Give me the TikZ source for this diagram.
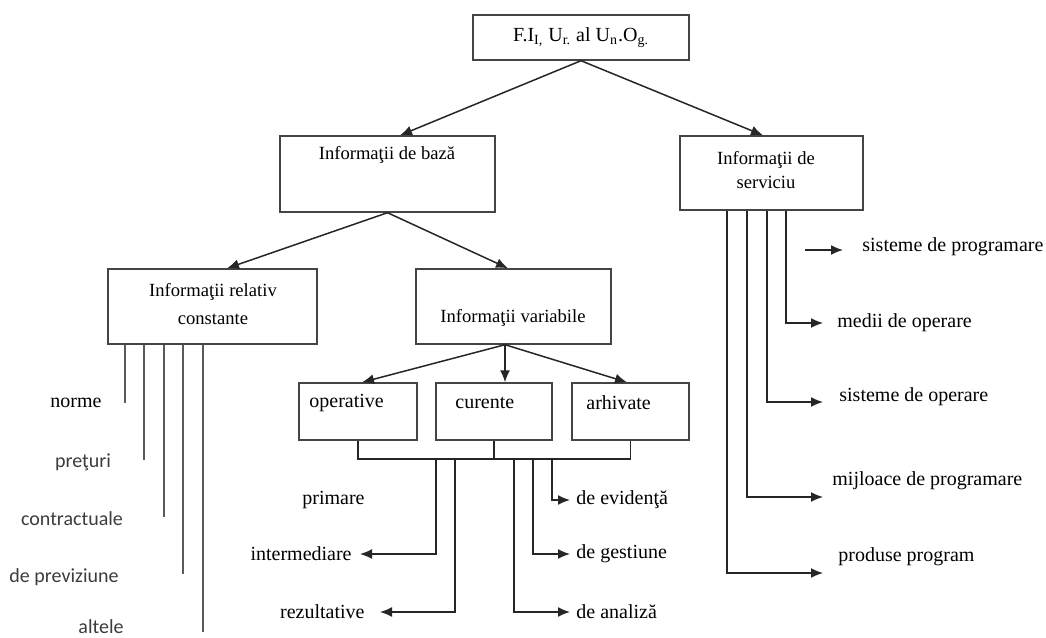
\documentclass[tikz,border=0pt]{standalone}
\usepackage{fontspec}
\setmainfont{Liberation Serif}
\newfontfamily\carlito{Carlito}
\usepackage{tikz}
\usetikzlibrary{calc, arrows.meta, shapes}
\tikzset{>={Latex[length = 6pt, width = 5pt]}}
\definecolor{mygray1}{RGB}{68, 68, 68}
\definecolor{mygray2}{RGB}{90, 90, 90}
\definecolor{mygray3}{RGB}{60, 60, 60}
\tikzset{box/.style = {draw = mygray1, line width = 0.7pt, inner sep = 0pt},
         boxtxt/.style = {inner sep = 0pt, font = \fontsize{9.3}{12}\selectfont, align = center},
         txt/.style = {inner sep = 0pt, font = \fontsize{10}{12}\selectfont},
         sanstxt/.style = {inner sep = 0pt, text = mygray3, font = \carlito\fontsize{10}{12}\selectfont},
         conn/.style = {draw = black!85, line width = 0.75pt},
         gline/.style = {draw = mygray2, line width = 0.7pt}}

\begin{document}
\begin{tikzpicture}[x = 0.5pt, y = -0.5pt]
\useasboundingbox (0,0) rectangle (1046,638);
% boxes
\node[box, minimum width = 108pt, minimum height = 22.5pt, font = \fontsize{10}{12}\selectfont] (fiur) at (581, 37.5) {F.I\textsubscript{I,} U\textsubscript{r.} al U\textsubscript{n}.O\textsubscript{g.}};
\node[box, minimum width = 107.5pt, minimum height = 38pt] (baza) at (387.5, 174) {};
\node[boxtxt] (bazatxt) at (387, 155) {Informaţii de bază};
\node[box, minimum width = 91.5pt, minimum height = 37pt] (serv) at (771.5, 173) {};
\node[boxtxt] (servtxt) at (766, 170) {Informaţii de\\ serviciu};
\node[box, minimum width = 104.5pt, minimum height = 37.5pt] (relcon) at (212.5, 306.5) {};
\node[boxtxt] (relcontxt) at (213, 304) {Informaţii relativ\\[2pt] constante};
\node[box, minimum width = 97.5pt, minimum height = 37.5pt] (variab) at (513.5, 306.5) {};
\node[boxtxt] (variabtxt) at (513, 318) {Informaţii variabile};
\node[box, minimum width = 59pt, minimum height = 28.5pt] (oper) at (358, 411.5) {};
\node[txt, anchor = west] (opertxt) at (309, 403) {operative};
\node[box, minimum width = 58pt, minimum height = 28.5pt] (cur) at (494, 411.5) {};
\node[txt, anchor = west] (curtxt) at (455, 403) {curente};
\node[box, minimum width = 58.5pt, minimum height = 28.5pt] (arh) at (630.5, 411.5) {};
\node[txt, anchor = west] (arhtxt) at (586, 403) {arhivate};
% labels
\node[txt] (norme) at (76, 403) {norme};
\node[sanstxt] (preturi) at (83, 462) {preţuri};
\node[sanstxt] (contr) at (72, 519) {contractuale};
\node[sanstxt] (previz) at (64, 577) {de previziune};
\node[sanstxt] (altele) at (101, 627) {altele};
\node[txt, anchor = east] (prim) at (365, 500) {primare};
\node[txt, anchor = east] (interm) at (352, 554) {intermediare};
\node[txt, anchor = east] (rezult) at (365, 612) {rezultative};
\node[txt, anchor = west] (evid) at (576, 500) {de evidenţă};
\node[txt, anchor = west] (gest) at (576, 554) {de gestiune};
\node[txt, anchor = west] (anal) at (576, 612) {de analiză};
\node[txt, anchor = west] (sisprog) at (862, 247) {sisteme de programare};
\node[txt, anchor = west] (medii) at (837, 323) {medii de operare};
\node[txt, anchor = west] (sisop) at (839, 397) {sisteme de operare};
\node[txt, anchor = west] (mijl) at (832, 481) {mijloace de programare};
\node[txt, anchor = west] (prod) at (838, 557) {produse program};
% arrows
\draw[conn, ->] (fiur.south) -- (baza.north -| 400,0);
\draw[conn, ->] (fiur.south) -- (serv.north -| 763,0);
\draw[conn, ->] (baza.south) -- (relcon.north -| 227,0);
\draw[conn, ->] (baza.south) -- (variab.north -| 508,0);
\draw[conn, ->] (variab.south -| 505,0) -- (oper.north -| 362,0);
\draw[conn, ->] (variab.south -| 505,0) -- (cur.north -| 505,0);
\draw[conn, ->] (variab.south -| 505,0) -- (arh.north -| 627,0);
% bus under the three boxes
\coordinate (bus) at (0, 459);
\draw[conn] (oper.south) -- (oper.south |- bus) -- (arh.south |- bus) -- (arh.south);
\draw[conn] (cur.south) -- (cur.south |- bus);
\draw[conn, ->] (bus -| 436,0) |- (interm.east -| 360,0);
\draw[conn, ->] (bus -| 455,0) |- (rezult.east -| 380,0);
\draw[conn, ->] (bus -| 514,0) |- (anal.west -| 570,0);
\draw[conn, ->] (bus -| 533,0) |- (gest.west -| 570,0);
\draw[conn, ->] (bus -| 552,0) |- (evid.west -| 570,0);
% service lines
\draw[conn, ->] (serv.south -| 786,0) |- (medii.west -| 823,0);
\draw[conn, ->] (serv.south -| 767,0) |- ($(sisop.west -| 823,0) + (0,5)$);
\draw[conn, ->] (serv.south -| 747,0) |- ($(mijl.west -| 823,0) + (0,16)$);
\draw[conn, ->] (serv.south -| 727,0) |- ($(prod.west -| 823,0) + (0,16)$);
\draw[conn, ->] ($(sisprog.west -| 805,0) + (0,3)$) -- ($(sisprog.west -| 843,0) + (0,3)$);
% lines under relativ constante
\draw[gline] (relcon.south -| 125,0) -- ++(0,58);
\draw[gline] (relcon.south -| 144,0) -- ++(0,115);
\draw[gline] (relcon.south -| 164,0) -- ++(0,172);
\draw[gline] (relcon.south -| 183,0) -- ++(0,229);
\draw[gline] (relcon.south -| 203,0) -- ++(0,287);
\end{tikzpicture}
\end{document}
